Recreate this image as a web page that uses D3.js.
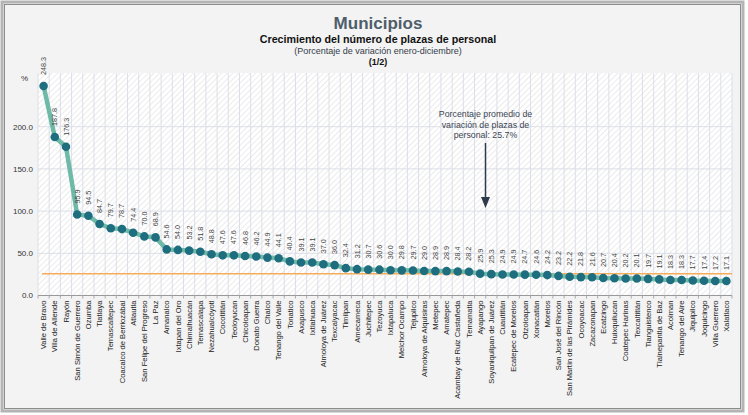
<!DOCTYPE html>
<html><head><meta charset="utf-8">
<script src="https://cdn.jsdelivr.net/npm/d3@7"></script>
<style>body{margin:0;background:#fff}svg{display:block;font-family:"Liberation Sans",Arial,sans-serif}</style>
</head><body><svg id="c" width="748" height="415"></svg>
<script>
const categories = ["Valle de Bravo","Villa de Allende","Rayón","San Simón de Guerrero","Ozumba","Tlatlaya","Temascaltepec","Coacalco de Berriozábal","Atlautla","San Felipe del Progreso","La Paz","Amanalco","Ixtapan del Oro","Chimalhuacán","Temascalapa","Nezahualcóyotl","Cocotitlán","Teoloyucan","Chicoloapan","Donato Guerra","Chalco","Tenango del Valle","Tonatico","Axapusco","Ixtlahuaca","Almoloya de Juárez","Texcalyacac","Timilpan","Amecameca","Juchitepec","Tezoyuca","Ixtapaluca","Melchor Ocampo","Tejupilco","Almoloya de Alquisiras","Metepec","Amatepec","Acambay de Ruiz Castañeda","Temamatla","Ayapango","Soyaniquilpan de Juárez","Cuautitlán","Ecatepec de Morelos","Otzoloapan","Xonacatlán","Morelos","San José del Rincón","San Martín de las Pirámides","Ocoyoacac","Zacazonapan","Ecatzingo","Huixquilucan","Coatepec Harinas","Texcaltitlán","Tianguistenco","Tlalnepantla de Baz","Acolman","Tenango del Aire","Jiquipilco","Joquicingo","Villa Guerrero","Xalatlaco"];
const values = [248.3,187.8,176.3,95.9,94.5,84.7,79.7,78.7,74.4,70.0,68.9,54.6,54.0,53.2,51.8,48.8,47.6,47.6,46.8,46.2,44.9,44.1,40.4,39.1,39.1,37.0,36.0,32.4,31.2,30.7,30.6,30.0,29.8,29.7,29.0,28.9,28.9,28.4,28.2,25.9,25.3,24.9,24.9,24.7,24.6,24.2,23.2,22.2,21.8,21.6,20.7,20.4,20.2,20.1,19.7,19.1,18.3,18.3,17.7,17.4,17.2,17.1];
const yTicks = [0,50,100,150,200];
const average = 25.7;
const titleText = "Municipios";
const subtitleText = "Crecimiento del número de plazas de personal";
const noteText = "(Porcentaje de variación enero-diciembre)";
const pageText = "(1/2)";
const annotationLines = ["Porcentaje promedio de","variación de plazas de","personal: 25.7%"];

const svg = d3.select("#c");
const defs = svg.append("defs");
const pat = defs.append("pattern").attr("id","hatch").attr("width",4).attr("height",4)
  .attr("patternUnits","userSpaceOnUse").attr("patternTransform","rotate(45)");
pat.append("rect").attr("width",4).attr("height",4).attr("fill","#ffffff");
pat.append("line").attr("x1",0).attr("y1",0).attr("x2",0).attr("y2",4).attr("stroke","#e6e6e6").attr("stroke-width",1.6);

// frame
svg.append("rect").attr("x",0).attr("y",0).attr("width",748).attr("height",415).attr("fill","#ffffff");
svg.append("rect").attr("x",2).attr("y",2).attr("width",741).attr("height",409).attr("fill","#f3f3f3")
  .attr("stroke","#b4b4b4").attr("stroke-width",3);
svg.append("rect").attr("x",4.5).attr("y",4.5).attr("width",736).attr("height",404).attr("fill","none")
  .attr("stroke","#8c8c8c").attr("stroke-width",1);

const pLeft = 38, pRight = 732, pTop = 73;
const x = d3.scaleBand().domain(categories).range([pLeft,pRight]).padding(0);
const y = d3.scaleLinear().domain([0,200]).range([295.5,126.7]);
const y0 = y(0);

svg.append("rect").attr("x",pLeft).attr("y",pTop).attr("width",pRight-pLeft).attr("height",y0-pTop).attr("fill","url(#hatch)");

// grid
const bounds = d3.range(categories.length+1).map(i => pLeft + i*x.bandwidth());
svg.append("g").selectAll("line").data(bounds).join("line")
  .attr("x1",d=>d).attr("x2",d=>d).attr("y1",pTop).attr("y2",y0)
  .attr("stroke","#dcdfe8").attr("stroke-width",1);
svg.append("g").selectAll("line").data(yTicks.filter(d=>d>0)).join("line")
  .attr("x1",pLeft).attr("x2",pRight).attr("y1",d=>y(d)).attr("y2",d=>y(d))
  .attr("stroke","#dcdfe8").attr("stroke-width",1);

// y labels
svg.append("g").selectAll("text").data(yTicks).join("text")
  .attr("x",33).attr("y",d=>y(d)).attr("dy","0.35em").attr("text-anchor","end")
  .attr("font-size",8).attr("fill","#333").text(d=>d3.format(".1f")(d));
svg.append("text").attr("x",24.5).attr("y",78).attr("dy","0.35em").attr("text-anchor","middle")
  .attr("font-size",8).attr("fill","#333").text("%");

// x axis
svg.append("line").attr("x1",pLeft).attr("x2",pRight).attr("y1",y0).attr("y2",y0).attr("stroke","#999").attr("stroke-width",1.2);
svg.append("g").selectAll("line").data(bounds).join("line")
  .attr("x1",d=>d).attr("x2",d=>d).attr("y1",y0).attr("y2",y0+3).attr("stroke","#aaa");
svg.append("g").selectAll("text").data(categories).join("text")
  .attr("transform",d=>`translate(${x(d)+x.bandwidth()/2},${y0+5}) rotate(-90)`)
  .attr("dy","0.35em").attr("text-anchor","end").attr("font-size",7.6).attr("fill","#222").text(d=>d);

// average line
svg.append("line").attr("x1",pLeft+4).attr("x2",pRight).attr("y1",y(average)).attr("y2",y(average))
  .attr("stroke","#f6ad5a").attr("stroke-width",1.5);

// series
const pts = categories.map((c,i)=>({c, v:values[i]}));
const line = d3.line().x(d=>x(d.c)+x.bandwidth()/2).y(d=>y(d.v));
svg.append("path").datum(pts).attr("d",line).attr("fill","none").attr("stroke","#6fb9a8").attr("stroke-width",4.5).attr("stroke-linejoin","round");
svg.append("g").selectAll("circle").data(pts).join("circle")
  .attr("cx",d=>x(d.c)+x.bandwidth()/2).attr("cy",d=>y(d.v)).attr("r",4.3).attr("fill","#1f6e80");
svg.append("g").selectAll("text").data(pts).join("text")
  .attr("transform",d=>`translate(${x(d.c)+x.bandwidth()/2},${y(d.v)-11}) rotate(-90)`)
  .attr("dy","0.35em").attr("text-anchor","start").attr("font-size",7.2).attr("fill","#444")
  .text(d=>d3.format(".1f")(d.v));

// titles
const cx = 378;
svg.append("text").attr("x",cx).attr("y",29).attr("text-anchor","middle").attr("font-size",17).attr("font-weight","bold").attr("fill","#4f5d6b").text(titleText);
svg.append("text").attr("x",cx).attr("y",43).attr("text-anchor","middle").attr("font-size",10.7).attr("font-weight","bold").attr("fill","#111").text(subtitleText);
svg.append("text").attr("x",cx).attr("y",54).attr("text-anchor","middle").attr("font-size",9).attr("fill","#333d4a").text(noteText);
svg.append("text").attr("x",cx).attr("y",65).attr("text-anchor","middle").attr("font-size",9).attr("font-weight","bold").attr("fill","#111").text(pageText);

// annotation
const ax = 485.5;
svg.append("g").selectAll("text").data(annotationLines).join("text")
  .attr("x",ax).attr("y",(d,i)=>117+i*10.5).attr("text-anchor","middle").attr("font-size",8.8).attr("fill","#3c4654").text(d=>d);
svg.append("line").attr("x1",ax).attr("x2",ax).attr("y1",143).attr("y2",199).attr("stroke","#2f3b4a").attr("stroke-width",1.5);
svg.append("path").attr("d",`M${ax-4.5},197 L${ax+4.5},197 L${ax},208 Z`).attr("fill","#2f3b4a");
</script></body></html>
